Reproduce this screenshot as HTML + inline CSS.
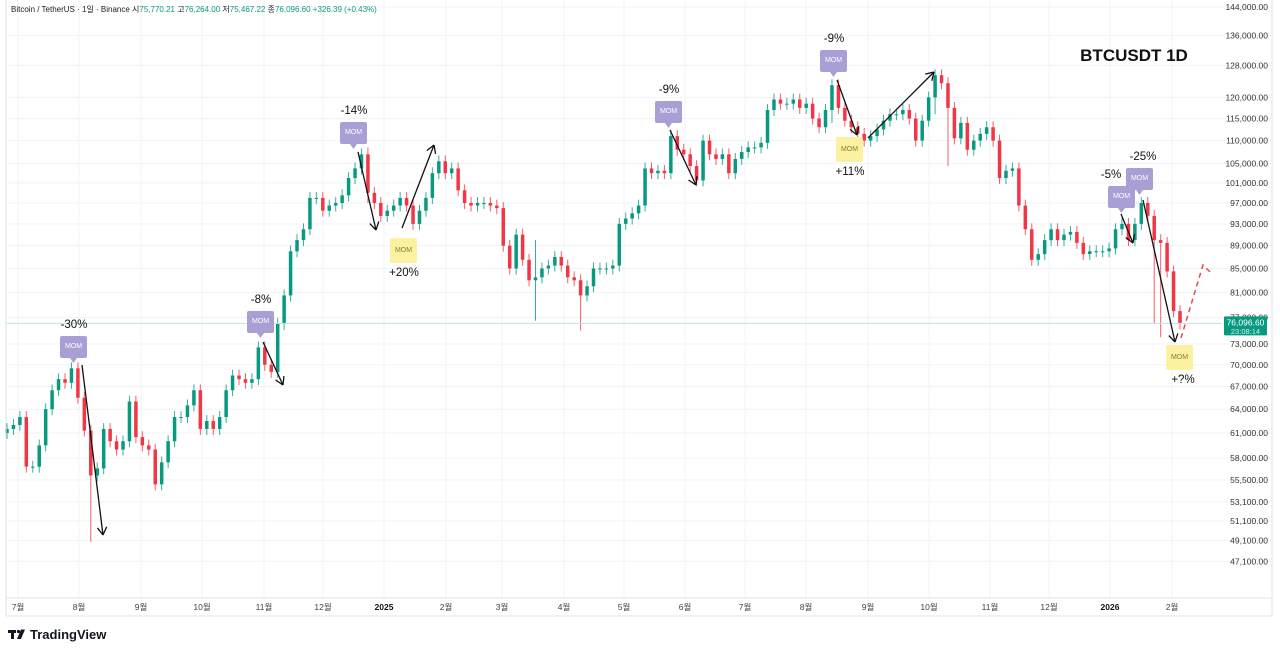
<!DOCTYPE html>
<html><head><meta charset="utf-8">
<style>
html,body{margin:0;padding:0;background:#fff;}
body{width:1280px;height:654px;overflow:hidden;font-family:"Liberation Sans","Noto Sans CJK KR",sans-serif;}
svg text{font-family:"Liberation Sans","Noto Sans CJK KR",sans-serif;}
</style></head><body>
<svg id="chart" width="1280" height="654" xmlns="http://www.w3.org/2000/svg">
<g id="grid"></g>
<g id="candles"></g>
<g id="ann"></g>
<g id="axes"></g>
</svg>
<script>
const yTicks=[144000,136000,128000,120000,115000,110000,105000,101000,97000,93000,89000,85000,81000,77000,73000,70000,67000,64000,61000,58000,55500,53100,51100,49100,47100];
const monthLabels=["7월","8월","9월","10월","11월","12월","2025","2월","3월","4월","5월","6월","7월","8월","9월","10월","11월","12월","2026","2월"];
const monthX=[18,79,141,202,264,323,384,446,502,564,624,685,745,806,868,929,990,1049,1110,1172];
const closes=[61.5,62,63,57,57,59.5,64,66.5,68,67.5,69.5,65.5,61.3,56,56.8,61.5,60,59,60,65,60.5,59.5,59,55,57.5,60,63,63,64.5,66.5,61.5,62.5,61.5,63,66.5,68.5,68,67.5,68,72.5,70,69,76,80.5,88,90,92,98,
98,95.5,96.5,97,98.5,102,104,107,99,97,94.5,95.5,96.5,98,96.5,93,95.5,98,103,105.5,103,104,99.5,97,96.5,97,97,96.5,96,89,85,91,86.5,83,83.5,85,85.5,87,85.5,83.5,83,80.5,82,85,85,85,85.5,93,94,
95,96.5,104,103,103.5,103,111,108,107,104.5,101.5,110,107,106,107,103,106,107.5,108.5,108.5,109.5,117,119.5,118.5,118.5,119.5,117.5,118.5,115,113,117,123,117.5,114.5,113,111.5,110,111,112.5,114.5,116,116,117,115,110,114.5,120,125.5,123.5,117.5,
110.5,114,108,110,111.5,113,110,102,103.5,104,96.5,92,86.5,87.5,90,92,90,91,91.5,89.5,87.5,88,88,88,88.5,92,93,90,93,97,94.5,90,89.5,84.5,78,76.1];
// special wick extremes: [index, high, low] in thousands
const wickIdx=[13,56,82,89,128,144,146,178,179];
const wickHigh=[62,108.5,90,82.5,124.5,126.5,124,79,77.3];
const wickLow=[49,97,76.5,75,114,116,104.5,76,74];

const NS="http://www.w3.org/2000/svg";
const X0=7,X1=1180,PL=6,PR=1220,PT=0,PB=598;
const xOf=i=>X0+i*(X1-X0)/(closes.length-1);
const yOf=p=>7+496*Math.log(144000/p);
function mk(tag,attrs,parent){const e=document.createElementNS(NS,tag);for(const k in attrs)e.setAttribute(k,attrs[k]);parent.appendChild(e);return e;}
const grid=document.getElementById('grid'),cg=document.getElementById('candles'),ann=document.getElementById('ann'),ax=document.getElementById('axes');

yTicks.forEach(v=>{const l=mk('line',{x1:PL,x2:PR+52,y1:yOf(v),y2:yOf(v),stroke:'#f0f3fa','stroke-width':1},grid);

});
monthX.forEach(x=>{const l=mk('line',{x1:x,x2:x,y1:0,y2:PB,stroke:'#f0f3fa','stroke-width':1},grid);

});

closes.forEach((c,i)=>{
 const o=i===0?61:closes[i-1];
 let hi=Math.max(o,c)*1.012,lo=Math.min(o,c)*0.988;
 const w=wickIdx.indexOf(i); if(w>=0){hi=Math.max(hi,wickHigh[w]);lo=Math.min(lo,wickLow[w]);}
 const up=c>=o,col=up?'#089981':'#f23645';
 const x=xOf(i);
 const g=mk('g',{},cg);
 
 
 mk('line',{x1:x,x2:x,y1:yOf(hi*1000),y2:yOf(lo*1000),stroke:col,'stroke-width':1,opacity:0.8},g);
 const y1=yOf(Math.max(o,c)*1000),y2=yOf(Math.min(o,c)*1000);
 mk('rect',{x:x-1.75,y:y1,width:3.5,height:Math.max(1,y2-y1),fill:col},g);
});

const cp=yOf(76096.6);
const pl=mk('line',{x1:PL,x2:PR+2,y1:cp,y2:cp,stroke:'#bfe6df','stroke-width':1},ann);



const arrows=[[82,365,103,535],[263,342,283,385],[358,152,376,230],[402,228,434,145],[670,130,696,185],[837,80,857,135],[868,138,934,72],[1121,214,1133,243],[1143,200,1175,342]];
function arrow(x1,y1,x2,y2,col,name){
 const g=mk('g',{},ann);
 
 
 mk('line',{x1,y1,x2,y2,stroke:col,'stroke-width':1.3},g);
 const a=Math.atan2(y2-y1,x2-x1),L=9;
 [a+2.6,a-2.6].forEach(b=>mk('line',{x1:x2,y1:y2,x2:x2+L*Math.cos(b),y2:y2+L*Math.sin(b),stroke:col,'stroke-width':1.3},g));
}
arrows.forEach(a=>arrow(a[0],a[1],a[2],a[3],'#111','trend-arrow'));
const dg=mk('g',{},ann);


mk('polyline',{points:'1181,338 1203,265 1212,274',fill:'none',stroke:'#e8474f','stroke-width':1.5,'stroke-dasharray':'5,4'},dg);

const moms=[[60,336,'p','-30%',0],[247,311,'p','-8%',0],[340,122,'p','-14%',0],[390,238,'y','+20%',0],[655,101,'p','-9%',0],[820,50,'p','-9%',0],[836,137,'y','+11%',0],[1108,186,'p','-5%',-11],[1126,168,'p','-25%',3],[1166,345,'y','+?%',3]];
moms.forEach(m=>{
 const [x,y,t,txt,dx]=m;const g=mk('g',{},ann);
 
 
 if(t==='p'){
  mk('rect',{x,y,width:27,height:22,rx:2,fill:'#a99fd4'},g);
  mk('polygon',{points:`${x+10},${y+22} ${x+17},${y+22} ${x+13.5},${y+27}`,fill:'#a99fd4'},g);
  const tt=mk('text',{x:x+13.5,y:y+12,'font-size':7,fill:'#fff','text-anchor':'middle'},g);tt.textContent='MOM';
 }else{
  mk('rect',{x,y,width:27,height:25,rx:2,fill:'#fbf1a0'},g);
  const tt=mk('text',{x:x+13.5,y:y+14,'font-size':7,fill:'#8a7a40','text-anchor':'middle'},g);tt.textContent='MOM';
 }
});
moms.forEach(m=>{
 const [x,y,t,txt,dx]=m;
 const p=mk('text',{x:x+14+dx,y:t==='p'?y-8:y+38,'font-size':11.5,fill:'#111','text-anchor':'middle'},ann);
 p.textContent=txt;
 
 
});

const tt=mk('text',{x:1134,y:61,'font-size':17,'font-weight':'bold',fill:'#111','text-anchor':'middle'},ann);
tt.textContent='BTCUSDT 1D';



mk('line',{x1:PL,x2:PL,y1:0,y2:616,stroke:'#e0e3eb'},ax);
mk('line',{x1:1272,x2:1272,y1:0,y2:616,stroke:'#e0e3eb'},ax);
mk('line',{x1:PL,x2:1272,y1:PB,y2:PB,stroke:'#e0e3eb'},ax);
mk('line',{x1:PL,x2:1272,y1:616,y2:616,stroke:'#e0e3eb'},ax);
yTicks.forEach(v=>{const t=mk('text',{x:1268,y:yOf(v)+3,'font-size':8.5,fill:'#333','text-anchor':'end'},ax);
 t.textContent=v.toLocaleString('en-US')+'.00';
 
 });
monthLabels.forEach((m,i)=>{const t=mk('text',{x:monthX[i],y:610,'font-size':8.5,fill:(m.length===4?'#111':'#444'),'font-weight':(m.length===4?'bold':'normal'),'text-anchor':'middle'},ax);
 t.textContent=m;
 
 });
const pg=mk('g',{},ax);


mk('rect',{x:1224,y:cp-7,width:43,height:19,rx:1,fill:'#089981'},pg);
const p1=mk('text',{x:1245.5,y:cp+2,'font-size':8.5,fill:'#fff','text-anchor':'middle'},pg);p1.textContent='76,096.60';
const p2=mk('text',{x:1245.5,y:cp+10.5,'font-size':7.5,fill:'#c8efe8','text-anchor':'middle'},pg);p2.textContent='23:08:14';
const hd=mk('text',{x:11,y:12,'font-size':8,fill:'#222'},ax);


hd.innerHTML='Bitcoin / TetherUS · 1일 · Binance  시<tspan fill="#089981">75,770.21</tspan>  고<tspan fill="#089981">76,264.00</tspan>  저<tspan fill="#089981">75,467.22</tspan>  종<tspan fill="#089981">76,096.60  +326.39 (+0.43%)</tspan>';
const lg=mk('g',{},ax);


mk('rect',{x:8,y:630,width:8,height:3,fill:'#131722'},lg);
mk('rect',{x:11,y:630,width:3,height:9,fill:'#131722'},lg);
mk('circle',{cx:18.5,cy:631.5,r:1.6,fill:'#131722'},lg);
mk('polygon',{points:'21,629.5 25,629.5 21,639 17,639',fill:'#131722'},lg);
const lt=mk('text',{x:30,y:639,'font-size':13,'font-weight':'bold',fill:'#131722'},lg);lt.textContent='TradingView';
</script>
</body></html>
